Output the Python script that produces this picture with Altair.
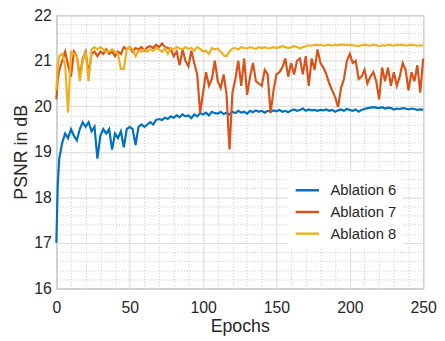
import altair as alt
import pandas as pd

epochs = [0, 1] + list(range(2, 251, 2))

abl6 = [17.0, 18.3, 18.85, 19.2, 19.4, 19.3, 19.5, 19.35, 19.25, 19.5,
        19.65, 19.55, 19.65, 19.45, 19.55, 18.85, 19.35, 19.5, 19.4, 19.5,
        19.05, 19.4, 19.3, 19.45, 19.1, 19.5, 19.55, 19.5, 19.15, 19.55,
        19.6, 19.55, 19.6, 19.65, 19.6, 19.7, 19.72, 19.7, 19.75, 19.72,
        19.78, 19.75, 19.8, 19.76, 19.82, 19.78, 19.8, 19.74, 19.82, 19.78,
        19.85, 19.82, 19.86, 19.8, 19.88, 19.85, 19.84, 19.88, 19.83, 19.86,
        19.82, 19.88, 19.85, 19.9, 19.86, 19.88, 19.84, 19.9, 19.87, 19.91,
        19.88, 19.9, 19.86, 19.9, 19.88, 19.91, 19.89, 19.92, 19.88, 19.9,
        19.87, 19.91, 19.93, 19.9, 19.92, 19.95, 19.9, 19.93, 19.91, 19.92,
        19.9, 19.92, 19.91, 19.93, 19.9, 19.92, 19.88, 19.91, 19.93, 19.9,
        19.94, 19.92, 19.9, 19.93, 19.88, 19.92, 19.94, 19.96, 19.97, 19.98,
        19.97, 19.96, 19.98, 19.95, 19.97, 19.96, 19.93, 19.95, 19.94, 19.96,
        19.95, 19.93, 19.95, 19.94, 19.92, 19.93, 19.92]

abl7 = [20.15, 20.6, 20.8, 21.0, 21.2, 20.9, 20.65, 21.2, 21.1, 20.65,
        21.05, 21.2, 20.7, 21.15, 21.2, 21.1, 21.2, 21.15, 21.25, 21.15,
        21.2, 21.1, 21.2, 21.15, 21.3, 21.25, 21.3, 21.2, 21.28, 21.25,
        21.3, 21.22, 21.3, 21.32, 21.28, 21.35, 21.3, 21.38, 21.3, 21.28,
        21.25, 21.1, 21.2, 20.9, 21.25, 21.0, 20.88, 21.22, 20.95, 20.7,
        19.85, 20.3, 20.75, 20.45, 20.6, 21.0, 20.55, 20.4, 20.7, 20.25,
        19.05, 20.3, 20.6, 21.0, 20.45, 21.05, 20.25, 20.65, 20.95, 20.55,
        20.5, 20.45, 20.8, 20.7, 19.85, 20.35, 20.7, 20.75, 20.85, 21.05,
        20.65, 20.95, 20.7, 21.0, 21.05, 20.7, 21.1, 20.45, 21.05, 20.8,
        21.25, 20.95, 20.85, 20.7, 20.5, 20.35, 20.2, 19.98, 20.4, 20.6,
        21.0, 21.15, 20.95, 21.0, 20.6, 20.65, 20.8, 20.5, 20.65, 20.75,
        20.55, 20.15, 20.85, 20.55, 20.85, 20.45, 20.75, 20.45, 20.65, 20.95,
        20.8, 20.35, 20.75, 20.55, 20.9, 20.3, 21.05]

abl8 = [20.35, 20.9, 21.1, 21.15, 20.9, 19.86, 21.2, 21.15, 21.1, 20.55,
        21.0, 21.2, 20.55, 21.25, 21.3, 21.25, 21.3, 21.25, 21.2, 21.2,
        21.25, 21.2, 21.15, 20.82, 20.82, 21.25, 21.3, 21.25, 21.1, 21.22,
        21.2, 21.25, 21.2, 21.25, 21.22, 21.28, 21.25, 21.2, 21.27, 21.15,
        21.28, 21.25, 21.3, 21.27, 21.25, 21.3, 21.26, 21.28, 21.22, 21.3,
        21.26, 21.2, 21.22, 21.15, 21.28, 21.25, 21.27, 21.2, 21.12, 21.1,
        21.2, 21.27, 21.28, 21.25, 21.3, 21.28, 21.27, 21.3, 21.28, 21.26,
        21.3, 21.28, 21.3, 21.27, 21.28, 21.3, 21.28, 21.3, 21.32, 21.3,
        21.28, 21.3, 21.32, 21.3, 21.27, 21.3, 21.32, 21.34, 21.33, 21.35,
        21.34, 21.35, 21.33, 21.34, 21.35, 21.33, 21.35, 21.34, 21.36, 21.35,
        21.34, 21.35, 21.34, 21.33, 21.32, 21.34, 21.35, 21.34, 21.33, 21.35,
        21.34, 21.32, 21.34, 21.33, 21.35, 21.34, 21.33, 21.35, 21.34, 21.35,
        21.33, 21.34, 21.35, 21.34, 21.33, 21.34, 21.33]

series_names = ["Ablation 6", "Ablation 7", "Ablation 8"]
colors = ["#0072BD", "#D95319", "#EDB120"]

x_major = [0, 50, 100, 150, 200, 250]
x_minor = list(range(0, 251, 10))
y_major = [16, 17, 18, 19, 20, 21, 22]
y_minor = [round(16 + 0.2 * i, 1) for i in range(31)]

rows = []
for name, vals in zip(series_names, [abl6, abl7, abl8]):
    for e, v in zip(epochs, vals):
        rows.append({"Epoch": e, "PSNR": v, "Series": name})
df = pd.DataFrame(rows)

FONT = "Liberation Sans"
TXT = "#262626"
xscale = alt.Scale(domain=[0, 250], nice=False)
yscale = alt.Scale(domain=[16, 22], nice=False, zero=False)

minor = alt.Chart(df).mark_line(opacity=0).encode(
    x=alt.X("Epoch:Q", scale=xscale,
            axis=alt.Axis(values=x_minor, grid=True, gridDash=[1, 2], gridColor="#c4c4c4",
                          gridWidth=1, labels=False, ticks=False, domain=False, title=None,
                          orient="bottom")),
    y=alt.Y("PSNR:Q", scale=yscale,
            axis=alt.Axis(values=y_minor, grid=True, gridDash=[1, 2], gridColor="#c4c4c4",
                          gridWidth=1, labels=False, ticks=False, domain=False, title=None,
                          orient="left")),
)

lines = alt.Chart(df).mark_line(strokeWidth=2.2).encode(
    x=alt.X("Epoch:Q", scale=xscale,
            axis=alt.Axis(values=x_major, grid=True, gridColor="#dedede", gridWidth=1,
                          title="Epochs", orient="bottom", ticks=False, domain=False,
                          labelFlush=False, labelOverlap=False,
                          labelFont=FONT, labelFontSize=16, labelColor=TXT,
                          labelPadding=11, titleFont=FONT, titleFontSize=18,
                          titleFontWeight="normal", titleColor=TXT, titlePadding=3,
                          format="d")),
    y=alt.Y("PSNR:Q", scale=yscale,
            axis=alt.Axis(values=y_major, grid=True, gridColor="#dedede", gridWidth=1,
                          title="PSNR in dB", orient="left", ticks=False, domain=False,
                          labelFlush=False, labelOverlap=False,
                          labelFont=FONT, labelFontSize=16, labelColor=TXT,
                          labelPadding=5, titleFont=FONT, titleFontSize=18,
                          titleFontWeight="normal", titleColor=TXT, titlePadding=3,
                          format="d")),
    color=alt.Color("Series:N", scale=alt.Scale(domain=series_names, range=colors),
                    legend=alt.Legend(title=None, orient="none", legendX=235, legendY=158,
                                      fillColor="white", padding=6, symbolType="stroke",
                                      symbolStrokeWidth=2.5, symbolSize=560,
                                      labelFont=FONT, labelFontSize=15, labelColor=TXT,
                                      rowPadding=0, labelOffset=10)),
)

chart = alt.layer(minor, lines).resolve_axis(
    x="independent", y="independent"
).properties(
    width=372, height=277,
    autosize=alt.AutoSizeParams(type="none"),
    padding={"left": 49, "top": 5, "right": 14, "bottom": 50},
).configure_view(stroke="#7a7a7a", strokeWidth=1)

chart.save("out.html", embed_options={"renderer": "svg", "actions": False})
